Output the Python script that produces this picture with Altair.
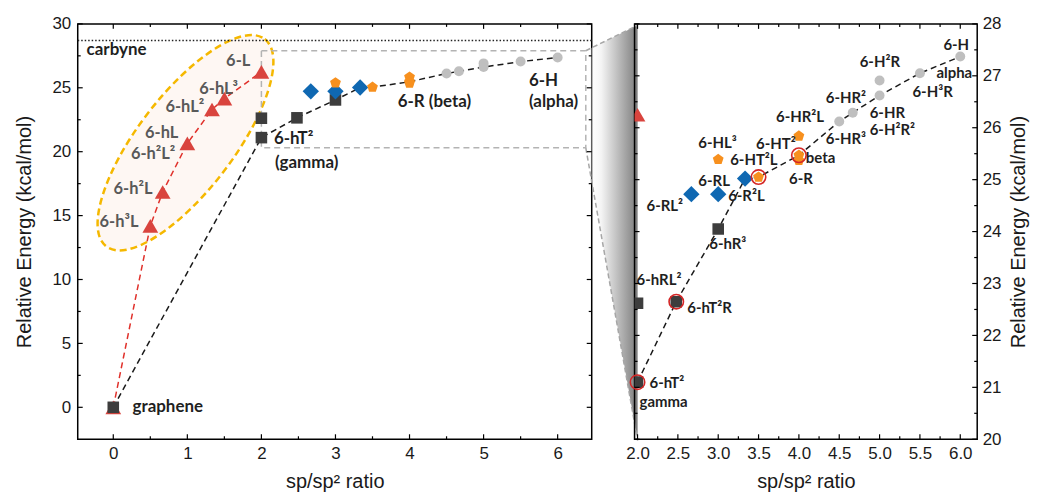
import altair as alt
import pandas as pd

# ---------------- data ----------------
# red triangles (h/L family, incl. graphene at 0)
tri_x = [0.0, 0.5, 0.667, 1.0, 1.333, 1.5, 2.0]
tri_y = [0.0, 14.2, 16.85, 20.65, 23.3, 24.15, 26.25]
# dark squares (hT / hR family, incl. graphene)
sq_x = [0.0, 2.0, 2.0, 2.48, 3.0]
sq_y = [0.0, 21.1, 22.62, 22.65, 24.05]
# blue diamonds
dia_x = [2.667, 3.0, 3.333]
dia_y = [24.72, 24.72, 25.02]
# orange pentagons
pen_x = [3.0, 3.5, 4.0, 4.0, 4.0]
pen_y = [25.39, 25.05, 25.84, 25.47, 25.37]
# grey circles
cir_x = [4.5, 4.667, 5.0, 5.0, 5.5, 6.0]
cir_y = [26.12, 26.29, 26.62, 26.91, 27.05, 27.37]
# black dashed guide through the lowest structures
path_x = [0.0, 2.0, 2.48, 3.0, 3.333, 3.5, 4.0, 4.5, 4.667, 5.0, 5.5, 6.0]
path_y = [0.0, 21.1, 22.65, 24.05, 25.02, 25.05, 25.47, 26.12, 26.29, 26.62, 27.05, 27.37]
# red rings (highlighted structures, zoom panel)
ring_x = [2.0, 2.48, 3.5, 4.0]
ring_y = [21.1, 22.65, 25.05, 25.47]
# carbyne reference level
carbyne_y = [28.7]

# zoom box in the left panel
zoom_x = [2.0, 6.38]
zoom_y = [20.3, 27.9]
# connector far ends (at the right panel edge, in left-panel units)
conn_x = [6.38, 7.08]
conn_top = [27.9, 29.9]
conn_bot = [20.3, -2.6]

# ellipse around the h/L family
ell_c = [0.975, 20.7]

# labels, left panel
labL_grey_text = ["6-L", "6-hL³", "6-hL²", "6-hL", "6-h²L²", "6-h²L", "6-h³L"]
labL_grey_x = [1.85, 1.685, 1.228, 0.878, 0.838, 0.529, 0.34]
labL_grey_y = [27.1, 24.9, 23.5, 21.45, 19.8, 17.1, 14.47]
labL_text = ["carbyne", "graphene", "6-hT²", "(gamma)", "6-R (beta)", "6-H", "(alpha)"]
labL_x = [-0.36, 0.26, 2.17, 2.183, 3.84, 5.613, 5.613]
labL_y = [27.95, 0.05, 21.0, 19.14, 23.9, 25.53, 23.92]

# labels, right (zoom) panel
labR_text = ["6-H²R", "alpha", "6-H³R", "6-HR²", "6-HR", "6-H²R²", "6-HR²L", "6-HR³",
             "6-HT²", "6-HL³", "6-HT²L", "beta", "6-R", "6-RL", "6-RL²", "6-R²L",
             "6-hR³", "6-hRL²", "6-hT²R", "6-hT²", "gamma"]
labR_x = [4.753, 5.704, 5.407, 4.333, 4.877, 4.877, 3.716, 4.333,
          3.469, 2.753, 3.148, 4.086, 3.877, 2.753, 2.111, 3.123,
          2.889, 1.988, 2.617, 2.148, 2.025]
labR_y = [27.27, 27.06, 26.68, 26.58, 26.29, 25.95, 26.2, 25.79,
          25.68, 25.70, 25.37, 25.41, 25.02, 24.97, 24.49, 24.68,
          23.76, 23.07, 22.53, 21.09, 20.72]
labR_right_text = ["6-H"]
labR_right_x = [6.11]
labR_right_y = [27.6]

# axis ticks
xl_major = [0, 1, 2, 3, 4, 5, 6]
xl_minor = [0.5, 1.5, 2.5, 3.5, 4.5, 5.5]
yl_major = [0, 5, 10, 15, 20, 25, 30]
yl_minor = [2.5, 7.5, 12.5, 17.5, 22.5, 27.5]
xr_major = [2.0, 2.5, 3.0, 3.5, 4.0, 4.5, 5.0, 5.5, 6.0]
xr_minor = [2.25, 2.75, 3.25, 3.75, 4.25, 4.75, 5.25, 5.75]
yr_major = [20, 21, 22, 23, 24, 25, 26, 27, 28]
yr_minor = [20.5, 21.5, 22.5, 23.5, 24.5, 25.5, 26.5, 27.5]

# ---------------- styling ----------------
W1, W2, H = 516, 344, 417
FA = "Liberation Sans"
FL = "Lato"
RED, ORANGE, BLUE, GREY, DARK = "#d9443e", "#f7901e", "#0f68b2", "#bfbfbf", "#3d3d3d"
PENT = "M0,-1L0.951,-0.309L0.588,0.809L-0.588,0.809L-0.951,-0.309Z"

# ellipse as a custom symbol (unit major axis, ratio r)
a_px, b_px = 131.0, 48.0
r = b_px / a_px
k = 0.5523
ELL = (f"M1,0C1,{k*r:.4f} {k:.4f},{r:.4f} 0,{r:.4f}"
       f"C{-k:.4f},{r:.4f} -1,{k*r:.4f} -1,0"
       f"C-1,{-k*r:.4f} {-k:.4f},{-r:.4f} 0,{-r:.4f}"
       f"C{k:.4f},{-r:.4f} 1,{-k*r:.4f} 1,0Z")
ELL_SIZE = (2 * a_px) ** 2


def df(x, y, **extra):
    d = pd.DataFrame({"x": x, "y": y})
    for kk, v in extra.items():
        d[kk] = v
    return d


common = dict(ticks=False, domain=False, grid=False, labelFont=FA, labelFontSize=17,
              labelColor="#1a1a1a", titleFont=FA, titleFontSize=20,
              titleFontWeight="normal", titleColor="#1a1a1a", labelFlush=False,
              labelOverlap=False)

ax_xl = alt.Axis(values=xl_major, format="d", labelPadding=6, titlePadding=10,
                 title="sp/sp² ratio", **common)
ax_yl = alt.Axis(values=yl_major, format="d", labelPadding=7, titlePadding=18,
                 title="Relative Energy (kcal/mol)", **common)
ax_xr = alt.Axis(values=xr_major, format=".1f", labelPadding=6, titlePadding=10,
                 title="sp/sp² ratio", **common)
ax_yr = alt.Axis(orient="right", values=yr_major, format="d", labelPadding=5,
                 titlePadding=8, title="Relative Energy (kcal/mol)", titleAngle=270,
                 titleBaseline="top", **common)

sxl = alt.Scale(domain=[-0.48, 6.46], nice=False, zero=False)
syl = alt.Scale(domain=[-2.5, 30], nice=False, zero=False)
sxr = alt.Scale(domain=[1.963, 6.21], nice=False, zero=False)
syr = alt.Scale(domain=[20, 28], nice=False, zero=False)

XL = alt.X("x:Q", scale=sxl, axis=ax_xl)
YL = alt.Y("y:Q", scale=syl, axis=ax_yl)
XR = alt.X("x:Q", scale=sxr, axis=ax_xr)
YR = alt.Y("y:Q", scale=syr, axis=ax_yr)


def tick_layers(X, Y, xmaj, xmin, ymaj, ymin, W):
    out = []
    for vals, ln in ((xmaj, 5), (xmin, 3)):
        d = pd.DataFrame({"x": vals})
        out.append(alt.Chart(d).mark_rule(color="black", strokeWidth=1.2)
                   .encode(x=X, y=alt.value(H), y2=alt.value(H - ln)))
        out.append(alt.Chart(d).mark_rule(color="black", strokeWidth=1.2)
                   .encode(x=X, y=alt.value(0), y2=alt.value(ln)))
    for vals, ln in ((ymaj, 5), (ymin, 3)):
        d = pd.DataFrame({"y": vals})
        out.append(alt.Chart(d).mark_rule(color="black", strokeWidth=1.2)
                   .encode(y=Y, x=alt.value(0), x2=alt.value(ln)))
        out.append(alt.Chart(d).mark_rule(color="black", strokeWidth=1.2)
                   .encode(y=Y, x=alt.value(W), x2=alt.value(W - ln)))
    return out


def points(X, Y, clip):
    return [
        alt.Chart(df(tri_x, tri_y)).mark_point(shape="triangle-up", filled=True, size=250,
                                               color=RED, opacity=1, clip=clip).encode(x=X, y=Y),
        alt.Chart(df(sq_x, sq_y)).mark_point(shape="square", filled=True, size=135,
                                             color=DARK, opacity=1, clip=clip).encode(x=X, y=Y),
        alt.Chart(df(dia_x, dia_y)).mark_point(shape="diamond", filled=True, size=270,
                                               color=BLUE, opacity=1, clip=clip).encode(x=X, y=Y),
        alt.Chart(df(pen_x, pen_y)).mark_point(shape=PENT, filled=True, size=130,
                                               color=ORANGE, opacity=1, clip=clip).encode(x=X, y=Y),
        alt.Chart(df(cir_x, cir_y)).mark_point(shape="circle", filled=True, size=100,
                                               color=GREY, opacity=1, clip=clip).encode(x=X, y=Y),
    ]


def text_layer(X, Y, t, x, y, align, color, size):
    d = pd.DataFrame({"x": x, "y": y, "t": t})
    return alt.Chart(d).mark_text(font=FL, fontWeight="bold", fontSize=size, align=align,
                                  baseline="middle", color=color).encode(x=X, y=Y, text="t:N")


# ---------------- left panel ----------------
ell = alt.Chart(df([ell_c[0]], [ell_c[1]])).mark_point(
    shape=ELL, size=ELL_SIZE, angle=307.4, filled=True, fill="#fef7f3", fillOpacity=1,
    stroke="#f5b800", strokeWidth=2.5, strokeDash=[7, 4], opacity=1).encode(x=XL, y=YL)

grad = alt.LinearGradient(gradient="linear", x1=0, x2=1, y1=0, y2=0, stops=[
    alt.GradientStop(offset=0, color="rgba(255,255,255,0)"),
    alt.GradientStop(offset=0.3, color="#f4f4f4"),
    alt.GradientStop(offset=1, color="#7c7c7c")])
conn_area = alt.Chart(pd.DataFrame({"x": conn_x, "y": conn_top, "y2": conn_bot})).mark_area(
    color=grad, opacity=1).encode(x=XL, y=YL, y2="y2:Q")
conn_lines = alt.Chart(pd.DataFrame({
    "x": conn_x + conn_x, "y": conn_top + conn_bot,
    "e": ["t", "t", "b", "b"]})).mark_line(
    color="#a6a6a6", strokeDash=[5, 3], strokeWidth=1.5).encode(x=XL, y=YL, detail="e:N")
zoom_box = alt.Chart(pd.DataFrame({"x": [zoom_x[0]], "x2": [zoom_x[1]],
                                   "y": [zoom_y[0]], "y2": [zoom_y[1]]})).mark_rect(
    fill=None, stroke="#b3b3b3", strokeDash=[6, 4], strokeWidth=1.5).encode(
    x=XL, x2="x2:Q", y=YL, y2="y2:Q")
carb = alt.Chart(pd.DataFrame({"y": carbyne_y})).mark_rule(
    color="#222222", strokeDash=[1.5, 2], strokeWidth=1.5).encode(y=YL)
red_line = alt.Chart(df(tri_x, tri_y)).mark_line(
    color="#e0302a", strokeDash=[6, 4], strokeWidth=1.5).encode(x=XL, y=YL)
blk_line = alt.Chart(df(path_x, path_y)).mark_line(
    color="#1a1a1a", strokeDash=[6, 4], strokeWidth=1.5).encode(x=XL, y=YL)

left_layers = [ell, conn_area, conn_lines, zoom_box, carb, red_line, blk_line]
left_layers += points(XL, YL, False)
left_layers += [
    text_layer(XL, YL, labL_grey_text, labL_grey_x, labL_grey_y, "right", "#595959", 16.5),
    text_layer(XL, YL, labL_text, labL_x, labL_y, "left", "#1f1f1f", 17),
]
left_layers += tick_layers(XL, YL, xl_major, xl_minor, yl_major, yl_minor, W1)
left = alt.layer(*left_layers).properties(width=W1, height=H)

# ---------------- right (zoom) panel ----------------
blk_line_r = alt.Chart(df(path_x[1:], path_y[1:])).mark_line(
    color="#1a1a1a", strokeDash=[6, 4], strokeWidth=1.5, clip=True).encode(x=XR, y=YR)
rings = alt.Chart(df(ring_x, ring_y)).mark_point(
    shape="circle", filled=False, size=210, stroke="#d42626", strokeWidth=1.6,
    opacity=1).encode(x=XR, y=YR)
right_layers = [blk_line_r] + points(XR, YR, True) + [rings]
right_layers += [
    text_layer(XR, YR, labR_text, labR_x, labR_y, "left", "#1f1f1f", 15),
    text_layer(XR, YR, labR_right_text, labR_right_x, labR_right_y, "right", "#1f1f1f", 15),
]
right_layers += tick_layers(XR, YR, xr_major, xr_minor, yr_major, yr_minor, W2)
right = alt.layer(*right_layers).properties(width=W2, height=H)

chart = alt.hconcat(left, right, spacing=43, bounds="flush").properties(
    padding={"left": 5, "top": 5, "right": 0, "bottom": 0}
).configure_view(stroke="black", strokeWidth=1.5)

chart.save("out.html", embed_options={"renderer": "svg", "actions": False})
